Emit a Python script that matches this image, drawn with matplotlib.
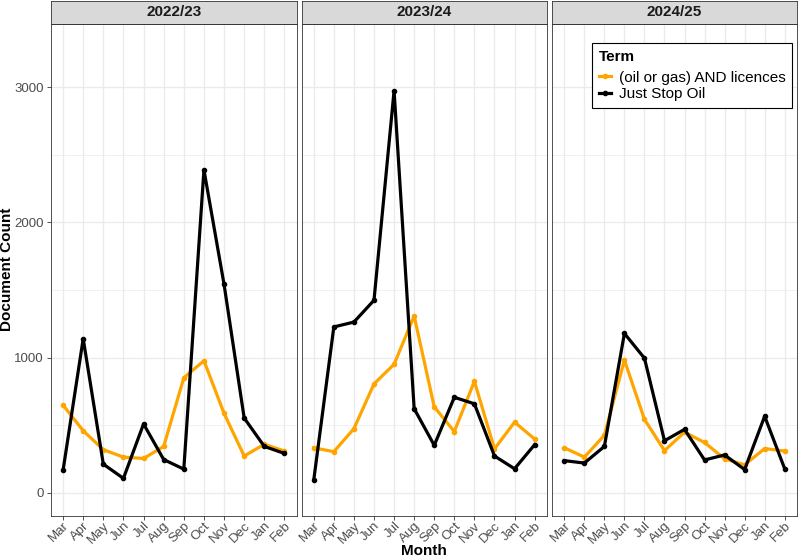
import numpy as np
import matplotlib
matplotlib.use('Agg')
from matplotlib import pyplot as plt
from matplotlib.lines import Line2D

plt.rcParams['font.family'] = ['Liberation Sans', 'DejaVu Sans']

# ~~~~~~~~~~~~~~ data ~~~~~~~~~~~~~~
months = ['Mar', 'Apr', 'May', 'Jun', 'Jul', 'Aug', 'Sep', 'Oct', 'Nov', 'Dec', 'Jan', 'Feb']
years = ['2022/23', '2023/24', '2024/25']
terms = ['(oil or gas) AND licences', 'Just Stop Oil']

oil_2223 = [649, 460, 320, 265, 255, 344, 851, 977, 588, 273, 360, 310]
jso_2223 = [168, 1140, 213, 108, 510, 247, 176, 2388, 1542, 554, 344, 292]

oil_2324 = [334, 305, 475, 806, 951, 1308, 636, 454, 825, 326, 523, 399]
jso_2324 = [95, 1227, 1263, 1424, 2973, 623, 352, 707, 659, 273, 179, 357]

oil_2425 = [334, 265, 426, 982, 544, 313, 449, 373, 252, 208, 328, 310]
jso_2425 = [239, 221, 344, 1179, 996, 386, 470, 244, 281, 173, 567, 179]

oil = [oil_2223, oil_2324, oil_2425]
jso = [jso_2223, jso_2324, jso_2425]
colors = ['#FFA500', '#000000']

# ~~~~~~~~~~~~~~ layout (pixels) ~~~~~~~~~~~~~~
W, H = 798, 559
fig = plt.figure(figsize=(W / 100, H / 100), dpi=100)

panels_x = [(51, 296.5), (301.7, 546.7), (552.3, 796.7)]
p_top, p_bot = 23.7, 515.7
strip_top = 0.5

x = np.arange(1, 13)
grid_c = '#EBEBEB'
border_c = '#333333'

for i, (x0, x1) in enumerate(panels_x):
    ax = fig.add_axes([x0 / W, 1 - p_bot / H, (x1 - x0) / W, (p_bot - p_top) / H])
    ax.set_xlim(0.4, 12.6)
    ax.set_ylim(-168, 3468)
    ax.set_xticks(x)
    ax.set_yticks([0, 1000, 2000, 3000])
    ax.set_yticks([500, 1500, 2500], minor=True)
    ax.grid(True, which='major', color=grid_c, linewidth=1.0)
    ax.grid(True, which='minor', axis='y', color=grid_c, linewidth=0.5)
    ax.set_axisbelow(True)
    for s in ax.spines.values():
        s.set_color(border_c)
        s.set_linewidth(0.6)

    ax.plot(x, oil[i], color=colors[0], lw=2.3, marker='o', ms=3, zorder=3)
    ax.plot(x, jso[i], color=colors[1], lw=2.3, marker='o', ms=3, zorder=4)

    ax.tick_params(axis='both', which='major', length=3, color=border_c, width=0.6,
                   labelsize=9.5, labelcolor='#4D4D4D', pad=2)
    ax.tick_params(axis='x', pad=0)
    ax.tick_params(axis='y', which='minor', length=0)
    ax.set_xticklabels(months, rotation=45, ha='right', va='top',
                       rotation_mode='anchor')
    if i == 0:
        ax.set_yticklabels(['0', '1000', '2000', '3000'])
    else:
        ax.set_yticklabels([])
        ax.tick_params(axis='y', length=0)

    # facet strip
    sax = fig.add_axes([x0 / W, 1 - p_top / H, (x1 - x0) / W, (p_top - strip_top) / H])
    sax.set_facecolor('#D9D9D9')
    sax.set_xticks([]); sax.set_yticks([])
    for s in sax.spines.values():
        s.set_color(border_c)
        s.set_linewidth(0.6)
    sax.text(0.5, 0.5, years[i], ha='center', va='center', fontsize=11,
             fontweight='bold', color='#1A1A1A', transform=sax.transAxes)

# axis titles
fig.text(7 / W, 1 - (p_top + p_bot) / 2 / H, 'Document Count', rotation=90,
         ha='center', va='center', fontsize=11, fontweight='bold')
fig.text((51 + 796.7) / 2 / W, 1 - 551 / H, 'Month', ha='center', va='center',
         fontsize=11, fontweight='bold')

# legend
handles = [Line2D([0], [0], color=c, lw=2.3, marker='o', ms=3) for c in colors]
leg = fig.legend(handles, terms, title='Term', loc='upper left',
                 bbox_to_anchor=(592 / W, 1 - 42.7 / H), fontsize=11,
                 title_fontproperties={'weight': 'bold', 'size': 11},
                 frameon=True, fancybox=False, edgecolor='black', framealpha=1,
                 handlelength=0.8, handletextpad=0.5, labelspacing=0.18,
                 borderpad=0.45, borderaxespad=0)
leg._legend_box.align = 'left'
leg._legend_box.sep = 5
leg.get_frame().set_linewidth(0.8)

fig.savefig('out.png', dpi=100)
